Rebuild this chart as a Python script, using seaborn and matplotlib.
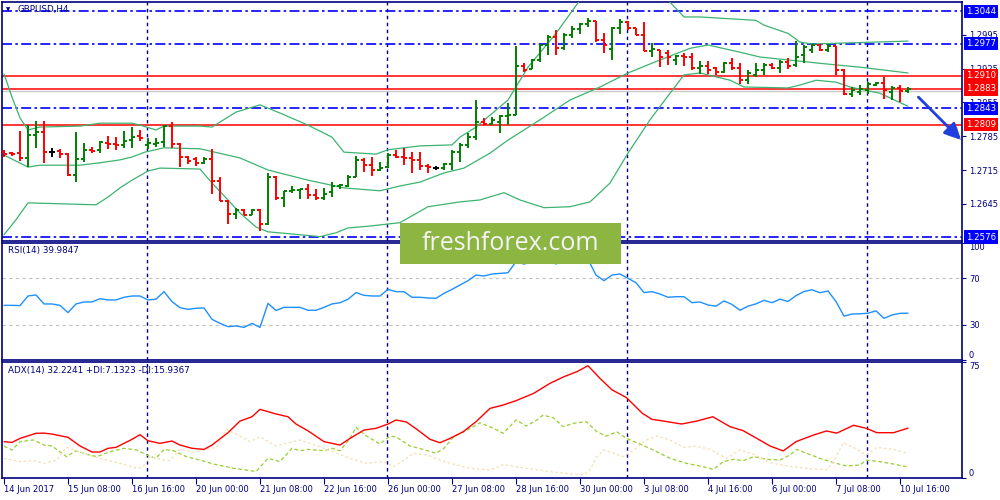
import matplotlib
matplotlib.use("Agg")
import matplotlib.pyplot as plt
import matplotlib.patheffects as pe
from matplotlib.patches import Rectangle
import numpy as np
import seaborn as sns

# GBPUSD H4 bars, 14 Jun 2017 - 10 Jul 2017
opens = [1.2752, 1.2750, 1.2750, 1.2740, 1.2787, 1.2794, 1.2752, 1.2754, 1.2748, 1.2705,
         1.2738, 1.2757, 1.2757, 1.2771, 1.2769, 1.2767, 1.2777, 1.2785, 1.2767, 1.2769,
         1.2773, 1.2806, 1.2769, 1.2742, 1.2738, 1.2730, 1.2738, 1.2692, 1.2651, 1.2624,
         1.2632, 1.2622, 1.2632, 1.2603, 1.2701, 1.2657, 1.2672, 1.2674, 1.2676, 1.2663,
         1.2657, 1.2670, 1.2682, 1.2682, 1.2701, 1.2736, 1.2725, 1.2715, 1.2721, 1.2746,
         1.2742, 1.2740, 1.2736, 1.2723, 1.2719, 1.2719, 1.2728, 1.2752, 1.2767, 1.2783,
         1.2814, 1.2810, 1.2814, 1.2827, 1.2829, 1.2930, 1.2924, 1.2943, 1.2974, 1.2990,
         1.2967, 1.2994, 1.3007, 1.3017, 1.3023, 1.2984, 1.2965, 1.3009, 1.3021, 1.3009,
         1.2994, 1.2961, 1.2963, 1.2957, 1.2943, 1.2951, 1.2949, 1.2926, 1.2930, 1.2926,
         1.2918, 1.2936, 1.2926, 1.2901, 1.2912, 1.2922, 1.2932, 1.2926, 1.2938, 1.2932,
         1.2953, 1.2963, 1.2974, 1.2963, 1.2972, 1.2922, 1.2872, 1.2877, 1.2881, 1.2891,
         1.2895, 1.2877, 1.2885, 1.2879]
highs = [1.2757, 1.2752, 1.2796, 1.2808, 1.2817, 1.2817, 1.2761, 1.2759, 1.2750, 1.2794,
         1.2771, 1.2763, 1.2775, 1.2785, 1.2783, 1.2796, 1.2804, 1.2798, 1.2781, 1.2781,
         1.2808, 1.2814, 1.2771, 1.2744, 1.2742, 1.2742, 1.2759, 1.2701, 1.2653, 1.2637,
         1.2634, 1.2634, 1.2634, 1.2709, 1.2703, 1.2672, 1.2682, 1.2676, 1.2686, 1.2676,
         1.2678, 1.2690, 1.2686, 1.2705, 1.2744, 1.2740, 1.2742, 1.2732, 1.2750, 1.2757,
         1.2761, 1.2752, 1.2752, 1.2728, 1.2723, 1.2730, 1.2757, 1.2771, 1.2792, 1.2860,
         1.2823, 1.2825, 1.2829, 1.2854, 1.2972, 1.2936, 1.2945, 1.2976, 1.2994, 1.3005,
         1.2998, 1.3013, 1.3019, 1.3029, 1.3023, 1.2998, 1.3011, 1.3027, 1.3023, 1.3009,
         1.3021, 1.2978, 1.2963, 1.2963, 1.2953, 1.2957, 1.2957, 1.2941, 1.2941, 1.2928,
         1.2938, 1.2947, 1.2936, 1.2922, 1.2936, 1.2936, 1.2936, 1.2943, 1.2947, 1.2982,
         1.2974, 1.2976, 1.2976, 1.2976, 1.2972, 1.2924, 1.2887, 1.2891, 1.2897, 1.2897,
         1.2908, 1.2889, 1.2891, 1.2887]
lows = [1.2742, 1.2744, 1.2734, 1.2721, 1.2761, 1.2730, 1.2742, 1.2740, 1.2703, 1.2690,
        1.2732, 1.2750, 1.2750, 1.2759, 1.2757, 1.2761, 1.2761, 1.2775, 1.2759, 1.2763,
        1.2763, 1.2761, 1.2721, 1.2728, 1.2723, 1.2728, 1.2665, 1.2651, 1.2603, 1.2614,
        1.2622, 1.2622, 1.2589, 1.2601, 1.2653, 1.2639, 1.2668, 1.2655, 1.2655, 1.2653,
        1.2653, 1.2659, 1.2676, 1.2680, 1.2701, 1.2711, 1.2703, 1.2713, 1.2719, 1.2740,
        1.2725, 1.2709, 1.2715, 1.2709, 1.2715, 1.2715, 1.2715, 1.2732, 1.2761, 1.2777,
        1.2808, 1.2808, 1.2792, 1.2808, 1.2829, 1.2918, 1.2924, 1.2938, 1.2953, 1.2953,
        1.2963, 1.2988, 1.2996, 1.3011, 1.2980, 1.2957, 1.2943, 1.2996, 1.3005, 1.2994,
        1.2961, 1.2949, 1.2928, 1.2932, 1.2932, 1.2930, 1.2922, 1.2914, 1.2914, 1.2912,
        1.2916, 1.2922, 1.2893, 1.2893, 1.2908, 1.2912, 1.2924, 1.2916, 1.2924, 1.2928,
        1.2936, 1.2957, 1.2961, 1.2959, 1.2912, 1.2870, 1.2866, 1.2870, 1.2872, 1.2889,
        1.2862, 1.2860, 1.2856, 1.2874]
closes = [1.2748, 1.2748, 1.2740, 1.2787, 1.2794, 1.2752, 1.2752, 1.2748, 1.2705, 1.2738,
          1.2757, 1.2754, 1.2773, 1.2769, 1.2767, 1.2775, 1.2783, 1.2781, 1.2771, 1.2771,
          1.2806, 1.2769, 1.2742, 1.2734, 1.2730, 1.2738, 1.2692, 1.2651, 1.2624, 1.2632,
          1.2622, 1.2632, 1.2603, 1.2701, 1.2657, 1.2672, 1.2674, 1.2676, 1.2663, 1.2657,
          1.2665, 1.2682, 1.2684, 1.2701, 1.2736, 1.2725, 1.2715, 1.2719, 1.2746, 1.2742,
          1.2740, 1.2736, 1.2723, 1.2721, 1.2719, 1.2728, 1.2752, 1.2767, 1.2783, 1.2814,
          1.2810, 1.2819, 1.2827, 1.2829, 1.2930, 1.2922, 1.2943, 1.2974, 1.2990, 1.2967,
          1.2994, 1.3007, 1.3017, 1.3023, 1.2984, 1.2974, 1.3009, 1.3021, 1.3009, 1.2994,
          1.2961, 1.2965, 1.2949, 1.2949, 1.2951, 1.2949, 1.2926, 1.2930, 1.2922, 1.2918,
          1.2936, 1.2926, 1.2901, 1.2916, 1.2922, 1.2932, 1.2926, 1.2938, 1.2930, 1.2949,
          1.2969, 1.2974, 1.2963, 1.2972, 1.2922, 1.2872, 1.2881, 1.2883, 1.2893, 1.2895,
          1.2881, 1.2885, 1.2879, 1.2883]

# Bollinger bands, sampled at bar positions
bb_up_x = [0, 1, 2, 3, 4.5, 9.5, 12, 16, 17, 19, 20, 24.5, 26, 29, 32, 34.5, 38, 41, 42.5,
           46.5, 48, 52, 56, 57, 59, 63, 65.5, 69, 72, 75, 79, 83, 85, 87, 94, 95, 98, 99.5,
           101, 105, 113]
bb_up = [1.2914, 1.2866, 1.2823, 1.2798, 1.2804, 1.2806, 1.2812, 1.2812, 1.2808, 1.2798,
         1.2806, 1.2806, 1.2804, 1.2835, 1.2850, 1.2833, 1.2808, 1.2783, 1.2752, 1.2748,
         1.2757, 1.2765, 1.2767, 1.2783, 1.2804, 1.2860, 1.2928, 1.2998, 1.3067, 1.3098,
         1.3098, 1.3067, 1.3032, 1.3032, 1.3025, 1.3015, 1.2998, 1.2980, 1.2976, 1.2978, 1.2982]
bb_mid_x = [0, 3, 4.5, 9.5, 12, 14.5, 16, 17.6, 20, 24.5, 29.5, 33, 38, 42.5, 47, 49.5, 52,
            55, 57.5, 60.75, 63, 67, 70.75, 74.5, 78, 82, 85.75, 88, 92, 94.5, 98, 102, 107, 113]
bb_mid = [1.2746, 1.2721, 1.2725, 1.2725, 1.2730, 1.2736, 1.2742, 1.2752, 1.2761, 1.2759,
          1.2740, 1.2715, 1.2694, 1.2678, 1.2672, 1.2682, 1.2690, 1.2709, 1.2719, 1.2750,
          1.2777, 1.2819, 1.2860, 1.2887, 1.2916, 1.2943, 1.2967, 1.2974, 1.2959, 1.2949,
          1.2943, 1.2936, 1.2928, 1.2916]
bb_low_x = [0, 1.5, 3, 11.5, 13, 14.5, 16, 18, 19.5, 24.5, 26, 28, 29.5, 31.5, 33, 37, 39.5,
            41.5, 43, 45.75, 49.5, 53, 57, 59.5, 62.5, 64.5, 67.5, 70.75, 73.25, 75.75, 78,
            80.75, 83.25, 85, 87, 90.75, 92.5, 98, 99.5, 101.5, 104, 105.75, 109.5, 113]
bb_low = [1.2581, 1.2612, 1.2647, 1.2643, 1.2659, 1.2678, 1.2694, 1.2713, 1.2719, 1.2717,
          1.2688, 1.2653, 1.2626, 1.2597, 1.2587, 1.2581, 1.2577, 1.2585, 1.2595, 1.2599,
          1.2606, 1.2639, 1.2649, 1.2653, 1.2668, 1.2653, 1.2637, 1.2639, 1.2649, 1.2688,
          1.2750, 1.2819, 1.2874, 1.2912, 1.2916, 1.2901, 1.2887, 1.2885, 1.2891, 1.2901,
          1.2897, 1.2887, 1.2874, 1.2847]

# RSI(14), one value per bar
rsi = [46.7, 46.7, 46.5, 54.7, 55.6, 47.9, 47.9, 46.7, 40.5, 47.9,
       49.6, 49.6, 52.4, 51.3, 51.3, 53.6, 54.7, 54.7, 51.3, 52.0,
       58.4, 49.9, 44.7, 43.3, 44.2, 44.5, 34.8, 31.3, 28.5, 29.1,
       27.9, 31.3, 27.9, 48.4, 42.3, 45.0, 45.0, 45.0, 42.5, 42.5,
       45.0, 47.9, 49.0, 51.9, 57.6, 55.3, 54.7, 54.7, 60.4, 58.4,
       58.4, 53.6, 53.6, 53.0, 52.7, 57.0, 60.4, 64.1, 67.8, 72.6,
       71.8, 73.5, 74.0, 74.6, 84.0, 82.0, 84.0, 87.0, 88.5, 82.0,
       86.0, 87.5, 88.5, 86.0, 72.6, 67.8, 72.6, 73.5, 69.8, 66.0,
       57.6, 58.4, 56.4, 53.6, 54.1, 54.1, 49.0, 49.6, 47.0, 46.0,
       50.5, 47.5, 42.5, 46.0, 48.0, 51.0, 49.0, 52.0, 50.0, 55.0,
       58.5, 60.0, 57.5, 59.0, 50.0, 37.5, 39.3, 39.5, 40.0, 42.0,
       35.6, 38.5, 39.9, 39.98]

# ADX(14) with +DI / -DI, sampled at bar positions
adx_x = [0, 1, 2, 4, 5, 6, 8, 9.5, 11, 12, 13, 14, 16, 17, 18, 19.5, 21, 22, 23.5, 25, 26,
         28, 29.5, 31, 32, 34, 35.5, 36.5, 38, 40, 42, 43.25, 45, 46.5, 48, 49, 50.3, 51.6,
         53.25, 54.5, 55.75, 57.4, 59, 60.75, 62.4, 64, 66.2, 68.25, 70, 71.6, 73, 74.5, 76,
         77.8, 79.8, 81, 82.2, 84.7, 86.6, 88.6, 90.75, 92.4, 94.1, 95.75, 97.4, 99, 101.2,
         102.8, 104.1, 106.2, 107.8, 109.1, 111.2, 113]
adx = [23.5, 23.0, 25.6, 28.9, 29.0, 28.4, 26.3, 20.7, 16.8, 16.8, 19.2, 19.8, 25.0, 28.0,
       24.1, 22.4, 23.9, 21.3, 19.2, 18.5, 21.3, 29.3, 36.8, 39.6, 44.4, 41.4, 39.6, 34.9,
       30.5, 23.5, 21.3, 25.6, 31.0, 32.1, 34.9, 37.5, 36.2, 31.5, 25.0, 22.8, 25.6, 29.9,
       36.4, 45.0, 47.2, 50.0, 54.7, 61.2, 65.5, 68.7, 72.6, 64.4, 57.0, 52.0, 41.8, 37.9,
       37.0, 34.9, 36.8, 39.6, 33.2, 30.6, 25.6, 20.7, 17.5, 23.5, 27.8, 30.4, 29.0, 34.1,
       32.1, 29.3, 29.3, 32.2241]
pdi_x = [0, 1, 2, 3.7, 5, 6, 7.8, 9, 10.3, 11.6, 13.25, 15, 16.6, 17.8, 19, 20, 21.2, 22.8,
         24.5, 26.2, 28.7, 31.5, 33, 34.5, 36, 37, 38, 40, 41, 42, 43.25, 44, 45.1, 47,
         48.25, 49, 50.75, 52.4, 54, 55, 56.2, 57.9, 59.5, 61.2, 62.4, 64, 65.3, 66.6, 67.4,
         68.7, 69.9, 71.2, 72.8, 74.1, 75.3, 76.6, 77.8, 79.8, 81.6, 83.25, 85.3, 87.4, 88.7,
         89.9, 91.2, 92.4, 93.7, 95.3, 97, 98.25, 99.1, 100.3, 102, 103.7, 105.3, 107, 107.8,
         109.5, 111.2, 113]
pdi = [20.7, 18.1, 23.5, 24.6, 21.3, 20.7, 13.8, 17.6, 15.3, 13.8, 17.0, 19.2, 18.1, 14.9,
       12.7, 18.5, 17.6, 13.8, 11.6, 9.0, 6.3, 4.2, 12.7, 10.6, 19.2, 17.6, 18.5, 17.6, 19.2,
       17.6, 25.6, 32.8, 27.8, 22.0, 27.1, 26.6, 20.7, 18.5, 16.0, 19.2, 26.6, 31.0, 35.7,
       32.1, 28.9, 37.5, 33.6, 37.5, 40.7, 38.8, 33.2, 35.4, 36.4, 29.9, 27.1, 29.9, 25.6,
       21.3, 17.0, 12.7, 9.5, 7.3, 5.6, 10.6, 12.1, 11.2, 13.8, 12.1, 11.6, 14.9, 18.5, 16.0,
       12.7, 9.9, 7.8, 8.4, 11.6, 10.6, 9.0, 7.1323]
mdi_x = [0, 2, 3.7, 5, 6.6, 7.8, 9.5, 11.2, 12.8, 14.5, 16.6, 17.4, 18.25, 19.5, 20.75, 22,
         23.7, 24.9, 26.6, 27.8, 29.5, 30.75, 32, 33.25, 34, 35.3, 37, 38.25, 40, 41.6, 43.25,
         45.3, 47.4, 48.7, 50, 51.2, 52.9, 54.5, 56.2, 58.25, 60.75, 62.4, 64, 66.2, 68.25,
         70.3, 72.4, 73.25, 74.1, 75, 76.2, 77.4, 78.7, 80.3, 81.6, 83.25, 85, 86.4, 88.25,
         90.3, 92, 93.7, 95.75, 97.8, 100.3, 102.8, 103.7, 104.9, 106.2, 107.8, 109.1, 111.2, 113]
mdi = [12.7, 10.6, 11.2, 9.5, 11.6, 19.8, 17.0, 13.8, 11.6, 9.5, 6.3, 7.3, 13.8, 12.1, 11.2,
       18.5, 17.0, 18.1, 19.8, 31.5, 27.1, 23.5, 26.7, 22.8, 20.7, 22.4, 24.6, 22.4, 19.2,
       16.0, 12.7, 9.5, 10.6, 7.3, 11.6, 16.0, 14.9, 11.6, 9.0, 6.3, 5.2, 8.6, 7.3, 5.6, 4.1,
       3.0, 2.0, 5.2, 13.8, 18.1, 16.0, 13.8, 18.1, 24.6, 27.1, 24.6, 19.8, 20.7, 18.5, 12.7,
       18.1, 15.3, 9.9, 7.8, 6.3, 5.2, 10.6, 22.8, 19.8, 14.9, 19.8, 18.5, 15.9367]

# horizontal levels and labels
blue_levels = [1.3044, 1.2977, 1.2843, 1.2576]
red_levels = [1.2910, 1.2883, 1.2809]
ask_level = 1.2879
price_ticks = [1.2645, 1.2715, 1.2785, 1.2855, 1.2925, 1.2995]
week_starts = [18, 48, 78, 108]
time_ticks = [0, 8, 16, 24, 32, 40, 48, 56, 64, 72, 80, 88, 96, 104, 112]
time_labels = ["14 Jun 2017", "15 Jun 08:00", "16 Jun 16:00", "20 Jun 00:00", "21 Jun 08:00",
               "22 Jun 16:00", "26 Jun 00:00", "27 Jun 08:00", "28 Jun 16:00", "30 Jun 00:00",
               "3 Jul 08:00", "4 Jul 16:00", "6 Jul 00:00", "7 Jul 08:00", "10 Jul 16:00"]
arrow_from = (114.3, 1.2866)
arrow_to = (119.6, 1.2778)

sns.set_style("white")
plt.rcParams['font.family'] = ['DejaVu Sans']

NAVY = '#000080'
fig = plt.figure(figsize=(10, 5), dpi=100)
ax = fig.add_axes([0.002, 0.518, 0.96, 0.478])
ax_rsi = fig.add_axes([0.002, 0.28, 0.96, 0.234])
ax_adx = fig.add_axes([0.002, 0.044, 0.96, 0.232])

n = len(closes)
x = np.arange(n)
cols = ['#008000' if c > o else ('#ff0000' if c < o else 'black') for o, c in zip(opens, closes)]

# price panel
ax.vlines(x, lows, highs, colors=cols, lw=1.4, zorder=4)
ax.hlines(opens, x - 0.4, x, colors=cols, lw=1.4, zorder=4)
ax.hlines(closes, x, x + 0.4, colors=cols, lw=1.4, zorder=4)

for bx, by in [(bb_up_x, bb_up), (bb_mid_x, bb_mid), (bb_low_x, bb_low)]:
    sns.lineplot(x=bx, y=by, ax=ax, color='#3cb371', lw=0.9, legend=False, zorder=3)

ax.axhline(ask_level, color='#c8c8c8', lw=1.0, zorder=2)
for lv in blue_levels:
    ax.axhline(lv, color='#0000ff', lw=1.2, linestyle=(0, (6, 2, 1.5, 2)), zorder=2)
for lv in red_levels:
    ax.axhline(lv, color='#ff0000', lw=1.1, zorder=2)

ax.set_xlim(-0.25, 119.75)
ax.set_ylim(1.2568, 1.3063)
ax.set_xticks([])
ax.yaxis.tick_right()
ax.set_yticks(price_ticks)
ax.set_yticklabels([f'{v:.4f}' for v in price_ticks])

for lv, c in [(v, '#0000ff') for v in blue_levels] + [(v, '#ff0000') for v in red_levels]:
    ax.text(1.0042, lv, f'{lv:.4f}', transform=ax.get_yaxis_transform(), ha='left', va='center',
            color='white', fontsize=6.2, clip_on=False, zorder=6,
            bbox=dict(boxstyle='square,pad=0.25', fc=c, ec='none'))

ax.annotate('', xy=arrow_to, xytext=arrow_from, annotation_clip=False,
            arrowprops=dict(arrowstyle='-|>,head_length=0.8,head_width=0.4', color='#1f3fe0',
                            lw=2.0, mutation_scale=12, shrinkA=0, shrinkB=0,
                            path_effects=[pe.SimplePatchShadow(offset=(2, -2), alpha=0.35),
                                          pe.Normal()]))

fig.text(0.006, 0.981, '\u25bc', fontsize=4, color=NAVY, va='center')
fig.text(0.018, 0.981, 'GBPUSD,H4', fontsize=6.3, color=NAVY, va='center')

# RSI panel
sns.lineplot(x=x, y=rsi, ax=ax_rsi, color='#1e90ff', lw=1.0, legend=False, zorder=3)
for lv in [30, 70]:
    ax_rsi.axhline(lv, color='#c0c0c0', lw=0.8, linestyle=(0, (3, 3)), zorder=1)
ax_rsi.set_xlim(-0.25, 119.75)
ax_rsi.set_ylim(0, 100)
ax_rsi.set_xticks([])
ax_rsi.yaxis.tick_right()
ax_rsi.set_yticks([0, 30, 70, 100])
ax_rsi.set_yticklabels(['0', '30', '70', '100'])
fig.text(0.008, 0.498, 'RSI(14) 39.9847', fontsize=6.3, color=NAVY, va='center')

# ADX panel
sns.lineplot(x=adx_x, y=adx, ax=ax_adx, color='#ff0000', lw=1.0, legend=False, zorder=4)
sns.lineplot(x=pdi_x, y=pdi, ax=ax_adx, color='#9acd32', lw=0.9, linestyle=(0, (3, 2)),
             legend=False, zorder=3)
sns.lineplot(x=mdi_x, y=mdi, ax=ax_adx, color='#f5deb3', lw=0.9, linestyle=(0, (2, 2)),
             legend=False, zorder=3)
ax_adx.set_xlim(-0.25, 119.75)
ax_adx.set_ylim(0, 75)
ax_adx.yaxis.tick_right()
ax_adx.set_yticks([0, 75])
ax_adx.set_yticklabels(['0', '75'])
ax_adx.set_xticks(time_ticks)
ax_adx.set_xticklabels(time_labels, ha='left')
ax_adx.tick_params(axis='x', bottom=True, direction='out', length=4, width=0.8, color=NAVY,
                   labelcolor=NAVY, labelsize=6, pad=1)
fig.text(0.008, 0.258, 'ADX(14) 32.2241 +DI:7.1323 -DI:15.9367', fontsize=6.3, color=NAVY,
         va='center')

for a in (ax, ax_rsi, ax_adx):
    a.set_xlabel('')
    a.set_ylabel('')
    for b in week_starts:
        a.axvline(b - 0.1, color=NAVY, lw=1.0, linestyle=(0, (2.5, 2.5)), zorder=1)
    a.tick_params(axis='y', right=True, left=False, labelright=True, labelleft=False,
                  direction='out', length=3, width=0.8, color=NAVY, labelcolor=NAVY,
                  labelsize=6, pad=2)
    for s in a.spines.values():
        s.set_color(NAVY)
        s.set_linewidth(1.2)

for a in (ax_rsi, ax_adx):
    labs = a.get_yticklabels()
    labs[0].set_va('bottom')
    labs[-1].set_va('top')

# watermark
fig.patches.append(Rectangle((0.400, 0.472), 0.2205, 0.083, transform=fig.transFigure,
                             facecolor='#8db542', edgecolor='none', zorder=10))
fig.text(0.5102, 0.5125, 'freshforex.com', ha='center', va='center', color='#f4f4f4',
         fontsize=18, family='Open Sans', zorder=11)

fig.savefig('out.png', dpi=100)
